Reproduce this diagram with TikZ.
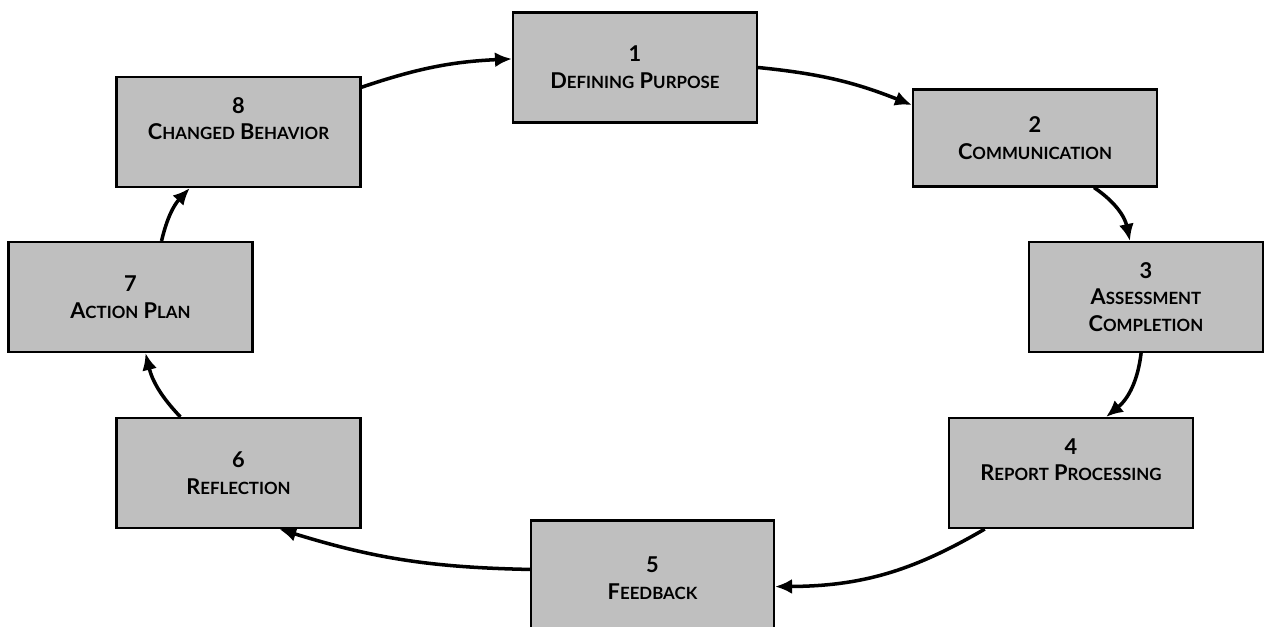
\documentclass[tikz,border=0pt]{standalone}
\usepackage{fontspec}
\setmainfont{Lato}
\usetikzlibrary{arrows.meta}
\newcommand{\smc}[2]{#1{\fontsize{9.6}{15}\selectfont\MakeUppercase{#2}}}
\tikzset{
    stage/.style = {rectangle, draw=black, line width=1.2pt, fill=black!25, align=center,
                    minimum width=4.88cm, minimum height=2.2cm,
                    font=\fontsize{12.4}{15.3}\selectfont\bfseries},
    flow/.style = {-{Latex[length=0.34cm,width=0.3cm]}, line width=2pt},
}

\begin{document}
\begin{tikzpicture}[x=0.02cm, y=-0.02cm]
\useasboundingbox (0,0) rectangle (1264,626);
% stages
\node[stage] at (635,67.5) (s1) {1\\ \smc{D}{efining} \smc{P}{urpose}};
\node[stage, minimum height=1.94cm] at (1035,138) (s2) {2\\ \smc{C}{ommunication}};
\node[stage, minimum width=4.68cm] at (1146,297) (s3) {3\\ \smc{A}{ssessment}\\ \smc{C}{ompletion}};
\node[stage] at (1071,473) (s4) {4\\ \smc{R}{eport} \smc{P}{rocessing}\\ \mbox{}};
\node[stage, minimum width=4.86cm, minimum height=2.3cm] at (652.5,578) (s5) {5\\ \smc{F}{eedback}};
\node[stage] at (238.5,473) (s6) {6\\ \smc{R}{eflection}};
\node[stage] at (130.5,297) (s7) {7\\ \smc{A}{ction} \smc{P}{lan}};
\node[stage] at (238.5,132) (s8) {8\\ \smc{C}{hanged} \smc{B}{ehavior}\\ \mbox{}};
%
\draw[flow] (s1.east) to[bend left=8] (s2.165);
\draw[flow] (s2.320) to[bend left=22] (s3.106);
\draw[flow] (s3.265) to[bend left=22] (s4.58);
\draw[flow] (s4.213) to[bend left=15] (s5.356);
\draw[flow] (s5.176) to[bend left=8] (s6.306);
\draw[flow] (s6.136) to[bend left=15] (s7.285);
\draw[flow] (s7.61) to[bend left=15] (s8.229);
\draw[flow] (s8.20) to[bend left=8] (s1.176);
\end{tikzpicture}
\end{document}
